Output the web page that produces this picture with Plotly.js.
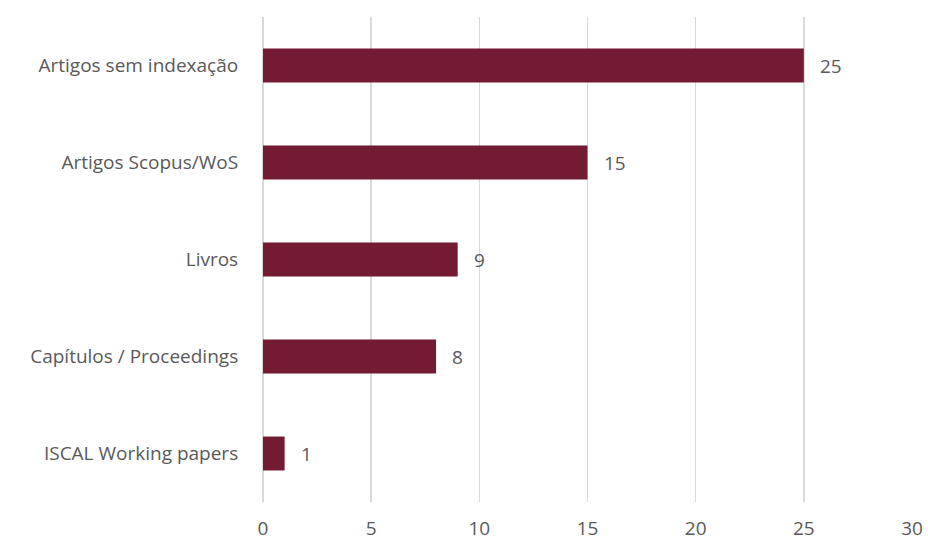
<!DOCTYPE html>
<html>
<head>
<meta charset="utf-8">
<script src="https://cdn.plot.ly/plotly-3.0.1.min.js"></script>
<style>html,body{margin:0;padding:0;background:#fff;}#chart{width:928px;height:543px;}</style>
</head>
<body>
<div id="chart"></div>
<script>
const categories = ["Artigos sem indexação", "Artigos Scopus/WoS", "Livros", "Capítulos / Proceedings", "ISCAL Working papers"];
const values = [25, 15, 9, 8, 1];
const xTicks = [0, 5, 10, 15, 20, 25, 30];

const fontFam = "Open Sans, Liberation Sans, sans-serif";
const textColor = "#595959";
const fs = 19;

const trace = {
  type: "bar",
  orientation: "h",
  x: values,
  y: categories,
  marker: { color: "#741B34" },
  hoverinfo: "x+y"
};

const annotations = categories.map((c, i) => ({
  x: values[i], y: c, xref: "x", yref: "y",
  text: String(values[i]), showarrow: false,
  xanchor: "left", xshift: 14,
  font: { family: fontFam, size: fs, color: textColor }
}));

const layout = {
  width: 928, height: 543,
  margin: { l: 263, r: 16, t: 17, b: 41 },
  paper_bgcolor: "#fff", plot_bgcolor: "#fff",
  showlegend: false,
  bargap: 0.65,
  font: { family: fontFam, size: fs, color: textColor },
  xaxis: {
    range: [0, 30], tickvals: xTicks, ticktext: xTicks.map(String),
    showgrid: true, gridcolor: "#d9d9d9", gridwidth: 1.5,
    zeroline: true, zerolinecolor: "#d9d9d9", zerolinewidth: 1.5,
    showline: false, ticks: "outside", ticklen: 9, tickcolor: "rgba(0,0,0,0)",
    tickfont: { family: fontFam, size: fs, color: textColor },
    fixedrange: true
  },
  yaxis: {
    autorange: "reversed", categoryorder: "array", categoryarray: categories,
    showgrid: false, zeroline: false, showline: false,
    ticks: "outside", ticklen: 20, tickcolor: "rgba(0,0,0,0)",
    tickfont: { family: fontFam, size: fs, color: textColor },
    fixedrange: true
  },
  annotations: annotations
};

Plotly.newPlot("chart", [trace], layout, { displayModeBar: false, staticPlot: true });
</script>
</body>
</html>
